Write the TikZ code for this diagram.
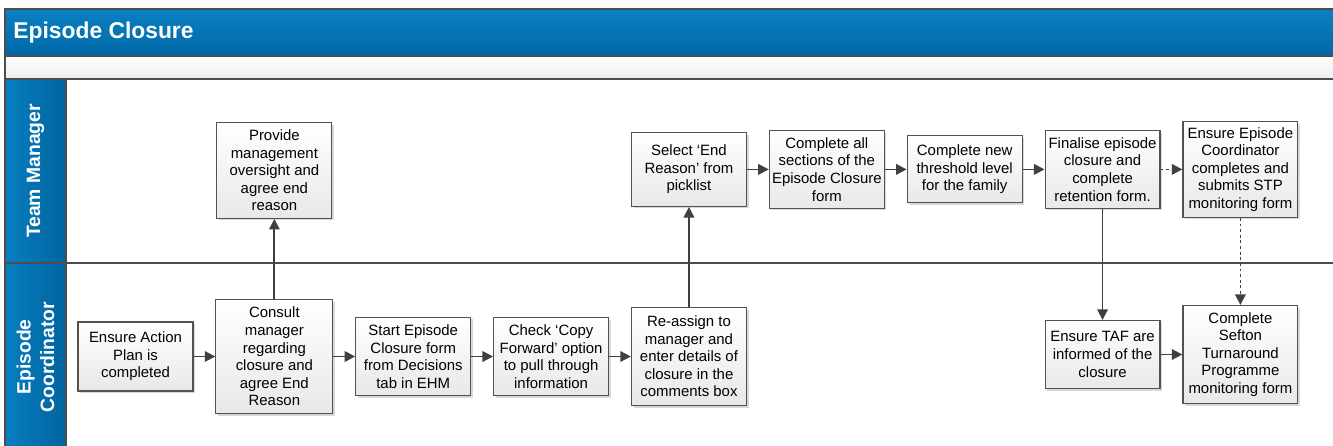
\documentclass[tikz,border=0pt]{standalone}
\usepackage{fontspec}
\setmainfont{Liberation Sans}
\usetikzlibrary{arrows.meta, positioning, shadows}

\definecolor{titletop}{RGB}{10,128,194}
\definecolor{titlebot}{RGB}{0,104,166}
\definecolor{laneleft}{RGB}{8,126,190}
\definecolor{laneright}{RGB}{0,100,160}
\definecolor{framegray}{RGB}{77,77,77}
\definecolor{linegray}{RGB}{64,64,64}

\begin{document}
\begin{tikzpicture}[
        x=0.02cm, y=-0.02cm,
        node distance=0.435cm and 0.435cm,
        % 流程框样式
        box/.style={
            rectangle,
            draw=black!68,
            line width=0.65pt,
            top color=white,
            bottom color=black!9,
            drop shadow={shadow xshift=1.2pt, shadow yshift=-1.2pt, fill=black!30, opacity=0.5},
            minimum width=2.3cm,
            inner xsep=1pt, inner ysep=2pt,
            align=center,
            font=\fontsize{8.5}{10}\selectfont
        },
        % 箭头样式
        arrow/.style={
            -{Triangle[length=6pt,width=6pt]},
            line width=1pt,
            draw=linegray
        },
        dotarrow/.style={arrow, dash pattern=on 1.6pt off 1.6pt},
        % 泳道标题与边框
        lanelabel/.style={text=white, font=\fontsize{11}{13.3}\selectfont\bfseries, align=center, rotate=90},
        frame/.style={draw=framegray, line width=0.7pt}
    ]

    \useasboundingbox (0,0) rectangle (1333,446);

    % ================= 泳道背景 =================
    \shade[top color=titletop, bottom color=titlebot] (5,9) rectangle (1333,56);
    \shade[top color=white, bottom color=black!7] (5,56) rectangle (1333,79);
    \shade[left color=laneleft, right color=laneright] (5,79) rectangle (66,446);
    \draw[frame] (1333,9) -- (5,9) -- (5,446);
    \draw[frame] (5,56) -- (1333,56);
    \draw[frame] (5,79) -- (1333,79);
    \draw[frame] (66,79) -- (66,446);
    \draw[frame] (5,263) -- (1333,263);

    \node[anchor=west, text=white, inner sep=0pt, font=\fontsize{13}{15}\selectfont\bfseries] (title) at (13,33) {Episode Closure};
    \node[lanelabel] (tmlabel) at (35.5,171) {Team Manager};
    \node[lanelabel] (eclabel) at (35.5,357) {Episode\\Coordinator};

    % ================= 定义节点 =================
    % 1. Episode Coordinator 泳道
    \node[box, minimum height=1.38cm] (plan) at (135.5,356.5) {Ensure Action\\Plan is\\completed};
    \node[box, minimum width=2.34cm, minimum height=2.28cm, right=of plan] (consult) {Consult\\manager\\regarding\\closure and\\agree End\\Reason};
    \node[box, minimum height=1.57cm, right=of consult] (start) {Start Episode\\Closure form\\from Decisions\\tab in EHM};
    \node[box, minimum height=1.56cm, right=of start] (copy) {Check ‘Copy\\Forward’ option\\to pull through\\information};
    \node[box, minimum height=1.96cm, right=of copy] (reassign) {Re-assign to\\manager and\\enter details of\\closure in the\\comments box};

    % 2. Team Manager 泳道
    \node[box, minimum height=1.92cm, above=1.6cm of consult] (oversight) {Provide\\management\\oversight and\\agree end\\reason};
    \node[box, minimum height=1.48cm, above=2cm of reassign] (endreason) {Select ‘End\\Reason’ from\\picklist};
    \node[box, minimum height=1.56cm, right=of endreason] (sections) {Complete all\\sections of the\\Episode Closure\\form};
    \node[box, minimum height=1.34cm, right=of sections] (threshold) {Complete new\\threshold level\\for the family};
    \node[box, minimum height=1.56cm, right=of threshold] (finalise) {Finalise episode\\closure and\\complete\\retention form.};
    \node[box, minimum height=1.92cm, right=of finalise] (stp) {Ensure Episode\\Coordinator\\completes and\\submits STP\\monitoring form};

    % 3. 收尾步骤
    \node[box, minimum height=1.36cm, below=2.22cm of finalise] (taf) {Ensure TAF are\\informed of the\\closure};
    \node[box, minimum height=1.96cm, right=of taf] (sefton) {Complete\\Sefton\\Turnaround\\Programme\\monitoring form};

    % ================= 绘制箭头 =================
    \draw[arrow] (plan) -- (consult);
    \draw[arrow] (consult) -- (oversight);
    \draw[arrow] (consult) -- (start);
    \draw[arrow] (start) -- (copy);
    \draw[arrow] (copy) -- (reassign);
    \draw[arrow] (reassign) -- (endreason);
    \draw[arrow] (endreason) -- (sections);
    \draw[arrow] (sections) -- (threshold);
    \draw[arrow] (threshold) -- (finalise);
    \draw[dotarrow] (finalise) -- (stp);
    \draw[arrow] (finalise) -- (taf);
    \draw[dotarrow] (stp) -- (sefton);
    \draw[arrow] (taf) -- (sefton);

\end{tikzpicture}
\end{document}
